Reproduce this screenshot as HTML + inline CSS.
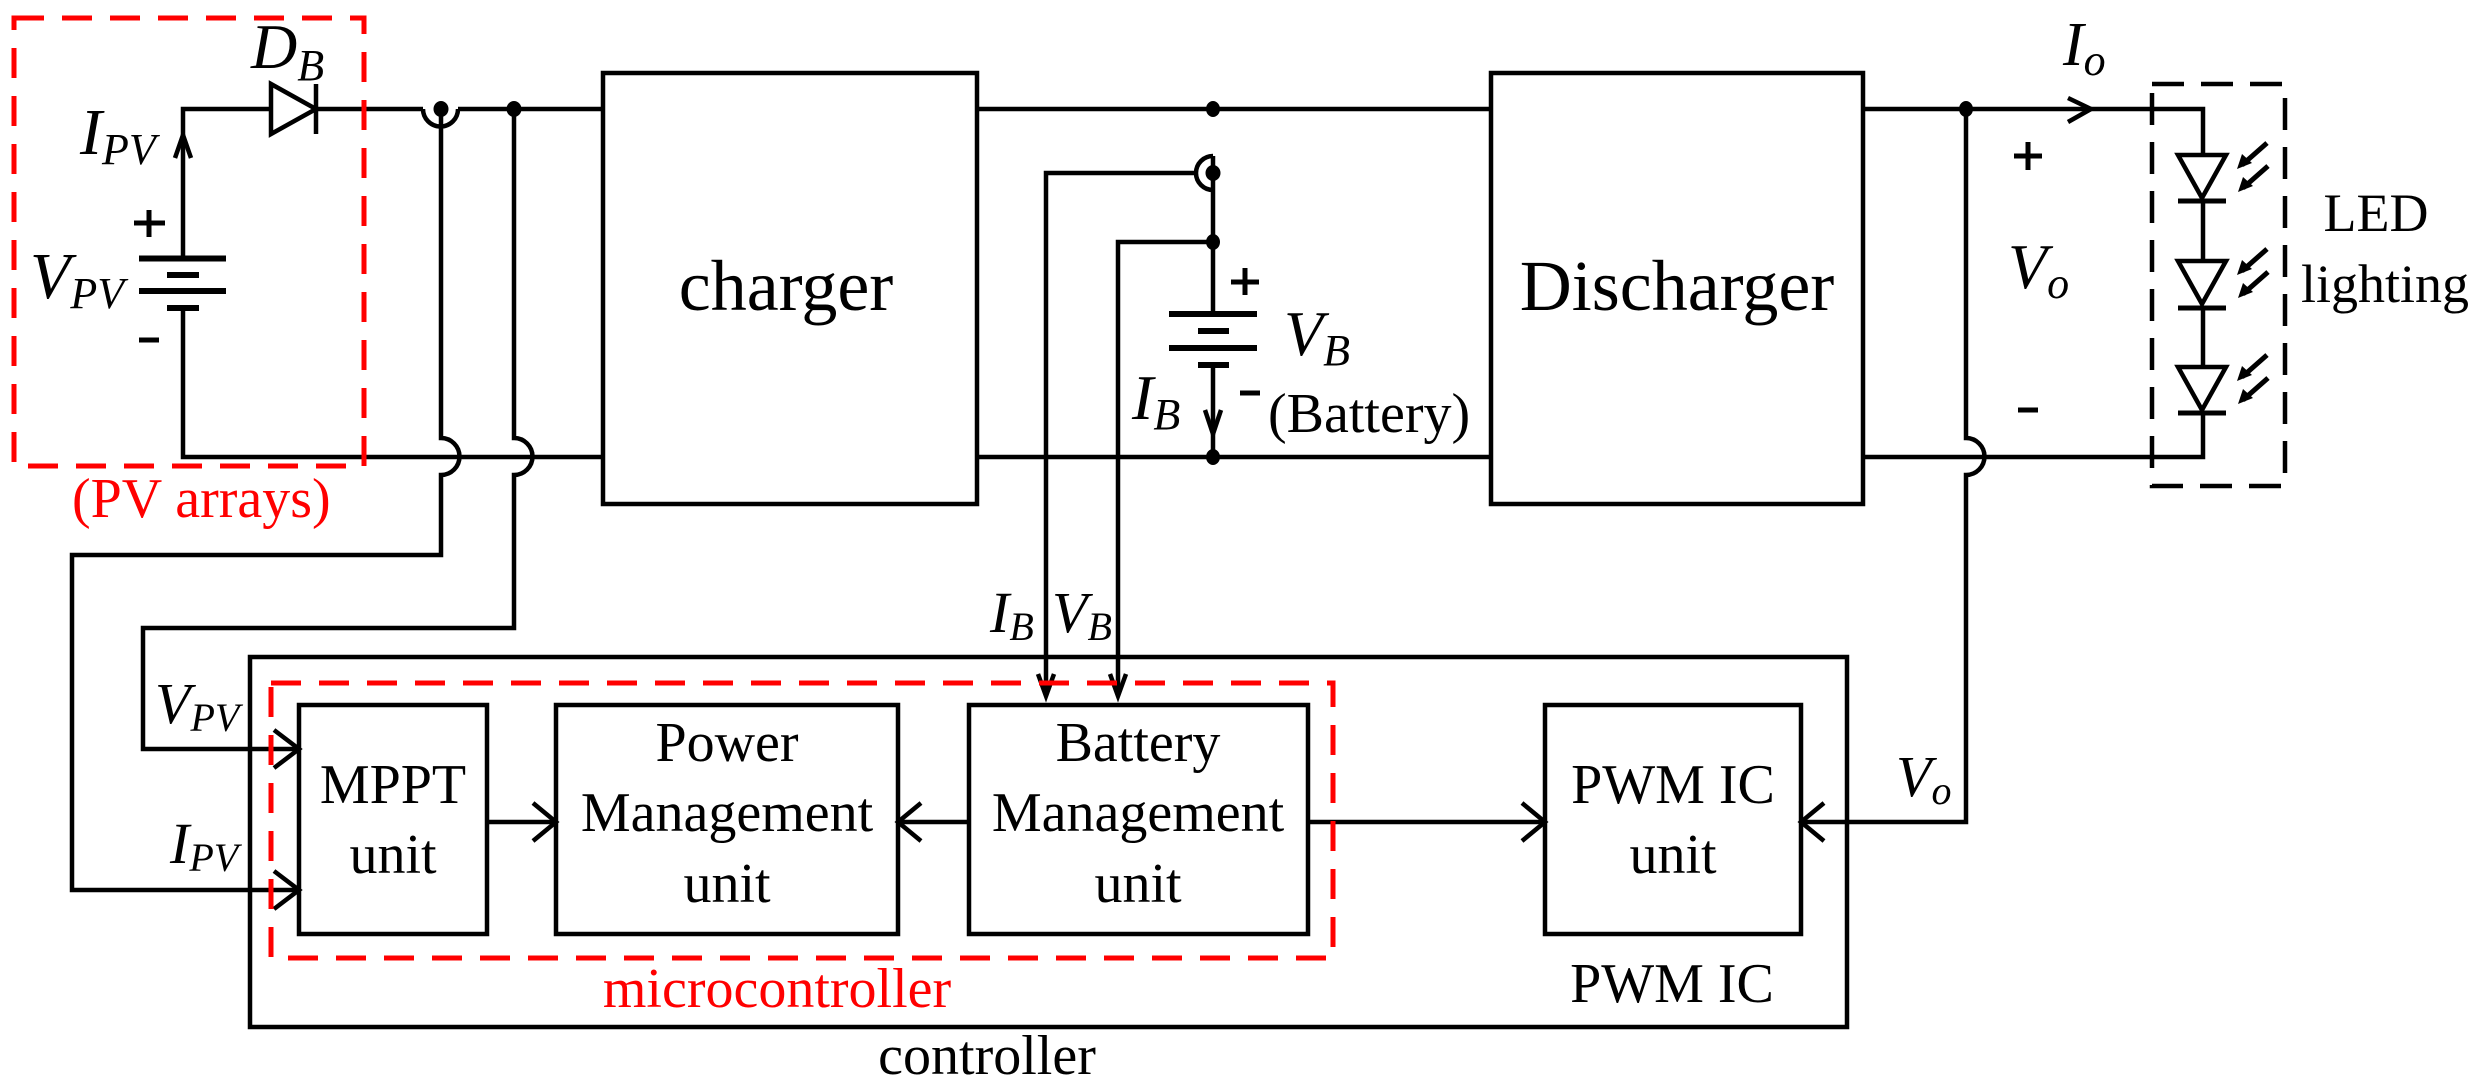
<!DOCTYPE html>
<html><head><meta charset="utf-8"><style>
html,body{margin:0;padding:0;background:#fff;}
svg{display:block;}
text{font-family:"Liberation Serif",serif;fill:#000;}
.i{font-style:italic;}
</style></head><body>
<svg width="2487" height="1089" viewBox="0 0 2487 1089" xmlns="http://www.w3.org/2000/svg">
<g fill="none" stroke="#000" stroke-width="4.5" stroke-linecap="butt">
<path d="M183 258V109H271M316 109H423M458 109H603M977 109H1491M1213 156V314M1213 365V457M183 308V457H603"/>
<path d="M977 457H1491"/>
<path d="M423 109A17 17 0 0 0 458 109"/>
<path d="M271 84L271 134L316 109Z"/>
<path d="M316 84V134"/>
<path d="M139 258.5H226M139 291H226" stroke-width="6"/>
<path d="M167 275H199M167 308H199" stroke-width="6"/>
<path d="M149 210V237M134 223H165M139 340H159" stroke-width="5"/>
<path d="M175 158L183 135L191 158"/>
<path d="M441 109V438A18 18 0 0 1 441 475V555H72V890H299"/>
<path d="M514 109V438A18 18 0 0 1 514 475V628H143V749H299"/>
<rect x="603" y="73" width="374" height="431"/>
<rect x="1491" y="73" width="372" height="431"/>
<path d="M1863 109H2203V155M2203 201V262M2203 308V368M2203 413V457H1863"/>
<path d="M1966 109V438A18 18 0 0 1 1966 475V822H1801"/>
<path d="M1213 156A17 17 0 0 0 1213 190"/>
<path d="M1196 173H1046V696"/>
<path d="M1213 242H1118V696"/>
<path d="M1169 314H1257M1169 348H1257" stroke-width="6"/>
<path d="M1198 331H1229M1198 365H1229" stroke-width="6"/>
<path d="M1245 268V295M1231 282H1259M1240 393H1260" stroke-width="5"/>
<path d="M1205 410L1213 434L1221 410"/>
<path d="M2068 98L2091 109L2068 122"/>
<path d="M2028 142V170M2014 156H2042M2018 410H2038" stroke-width="5"/>
<path d="M2178 155H2226L2202 198Z M2178 261H2226L2202 304Z M2178 367H2226L2202 410Z"/>
<path d="M2178 201H2226M2178 308H2226M2178 413H2226" stroke-width="5"/>
<path d="M2267 143L2242 165M2268 166L2243 188M2267 249L2242 271M2268 272L2243 294M2267 355L2242 377M2268 378L2243 400" stroke-width="5"/>
<path d="M2152 84H2285V486H2152Z" stroke-dasharray="32 17"/>
<rect x="250" y="657" width="1597" height="370"/>
<rect x="299" y="705" width="188" height="229"/>
<rect x="556" y="705" width="342" height="229"/>
<rect x="969" y="705" width="339" height="229"/>
<rect x="1545" y="705" width="256" height="229"/>
<path d="M487 822H556M969 822H898M1308 822H1545"/>
<path d="M274 730L299 749L274 768M274 871L299 890L274 909M533 803L556 822L533 841M921 803L898 822L921 841M1522 803L1545 822L1522 841M1824 803L1801 822L1824 841M1038 674L1046 696L1054 674M1110 674L1118 696L1126 674"/>
</g>
<g fill="#000">
<ellipse cx="441" cy="109" rx="7.5" ry="8"/>
<ellipse cx="514" cy="109" rx="7.5" ry="8"/>
<ellipse cx="1213" cy="109" rx="7" ry="8"/>
<ellipse cx="1213" cy="173" rx="7.5" ry="8"/>
<ellipse cx="1213" cy="242" rx="7" ry="8"/>
<ellipse cx="1213" cy="457" rx="7" ry="8"/>
<ellipse cx="1966" cy="109" rx="7" ry="8"/>
<path d="M2237 169L2242 154L2252 163Z M2238 192L2243 177L2253 186Z M2237 275L2242 260L2252 269Z M2238 298L2243 283L2253 292Z M2237 381L2242 366L2252 375Z M2238 404L2243 389L2253 398Z"/>
</g>
<g fill="none" stroke="#f00" stroke-width="5">
<path d="M14 18H364V466H14Z" stroke-dasharray="30 18"/>
<path d="M271 683H1333V958H271Z" stroke-dasharray="30 18"/>
</g>
<text x="251" y="68" font-size="64" class="i">D<tspan font-size="44" dy="12">B</tspan></text>
<text x="80" y="154" font-size="66" class="i">I<tspan font-size="44" dy="10">PV</tspan></text>
<text x="30" y="298" font-size="66" class="i">V<tspan font-size="44" dy="10">PV</tspan></text>
<text x="72" y="517" font-size="56" style="fill:#f00">(PV arrays)</text>
<text x="786" y="310" font-size="72" text-anchor="middle">charger</text>
<text x="1677" y="310" font-size="72" text-anchor="middle">Discharger</text>
<text x="1132" y="419" font-size="64" class="i">I<tspan font-size="44" dy="10">B</tspan></text>
<text x="1284" y="355" font-size="64" class="i">V<tspan font-size="44" dy="10">B</tspan></text>
<text x="1268" y="432" font-size="56">(Battery)</text>
<text x="2063" y="65" font-size="62" class="i">I<tspan font-size="44" dy="10">o</tspan></text>
<text x="2008" y="288" font-size="64" class="i">V<tspan font-size="44" dy="10">o</tspan></text>
<text x="2376" y="231" font-size="54" text-anchor="middle">LED</text>
<text x="2385" y="302" font-size="54" text-anchor="middle">lighting</text>
<text x="990" y="632" font-size="58" class="i">I<tspan font-size="40" dy="8">B</tspan></text>
<text x="1052" y="632" font-size="58" class="i">V<tspan font-size="40" dy="8">B</tspan></text>
<text x="155" y="723" font-size="58" class="i">V<tspan font-size="40" dy="8">PV</tspan></text>
<text x="170" y="863" font-size="58" class="i">I<tspan font-size="40" dy="8">PV</tspan></text>
<text x="1896" y="796" font-size="58" class="i">V<tspan font-size="40" dy="8">o</tspan></text>
<g font-size="56" text-anchor="middle">
<text x="393" y="803">MPPT</text>
<text x="393" y="873">unit</text>
<text x="727" y="761">Power</text>
<text x="727" y="831">Management</text>
<text x="727" y="902">unit</text>
<text x="1138" y="761">Battery</text>
<text x="1138" y="831">Management</text>
<text x="1138" y="902">unit</text>
<text x="1673" y="803">PWM IC</text>
<text x="1673" y="873">unit</text>
<text x="1672" y="1002">PWM IC</text>
<text x="777" y="1007" style="fill:#f00">microcontroller</text>
<text x="987" y="1074">controller</text>
</g>
</svg>
</body></html>
